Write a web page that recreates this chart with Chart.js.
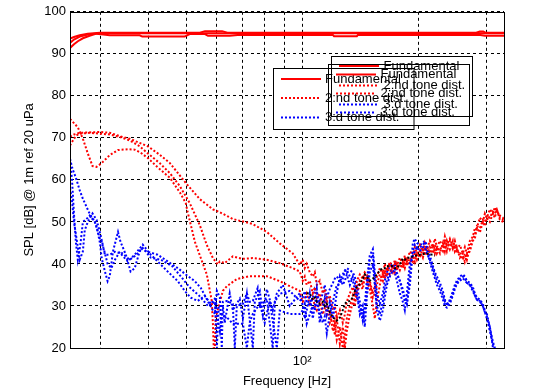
<!DOCTYPE html>
<html>
<head>
<meta charset="utf-8">
<script src="https://cdn.jsdelivr.net/npm/chart.js@4/dist/chart.umd.min.js"></script>
<style>body{margin:0;background:#fff}</style>
</head>
<body>
<canvas id="c" width="556" height="389"></canvas>
<script>
// frequency ticks (Hz) and labels
const xTicks = [30, 40, 50, 60, 70, 80, 90, 100, 200, 300];
const legendLabels = ['Fundamental', '2:nd tone dist.', '3:d tone dist.'];

// shared frequency grid for the upper (noisy) part of every curve
const fTail = [98.6,100.4,101.6,102.8, 104.7,106.6,107.9,109.2, 111.1,113.2,114.5,115.9, 118.0,120.2,121.6,123.0,
  125.3,127.5,129.1,130.6, 133.0,135.4,137.0,138.7, 141.2,143.7,145.4,147.2, 149.8,152.6,154.4,156.3,
  159.1,162.0,163.9,165.9, 168.9,171.9,174.0,176.1, 179.3,182.5,184.7,187.0, 190.3,193.8,196.1,198.5,
  202.1,205.7,208.2,210.7, 214.5,218.4,221.0,223.7, 227.8,231.9,234.6,237.5, 241.7,246.1,249.0,252.0,
  256.6,261.2,264.4,267.6, 272.4,277.3,280.6,284.0, 289.2,294.4,298.0,301.5, 306.9,312.5,316.2,320.0,
  325.9,331.7,333.8];

// fundamentals [Hz, dB]
const fund1 = [[25,93.6],[25.6,94.0],[26.5,94.4],[27.8,94.8],[29.9,95.0],[54.3,95.0],[56,95.4],[62,95.4],[64,95.0],
  [283,95.0],[289,95.3],[295,95.3],[300,95.0],[334,95.0]];
const fund2 = [[25,91.4],[25.6,92.3],[26.2,93.0],[27.0,93.7],[28.1,94.3],[29.3,94.8],[30.5,94.6],[31.7,94.4],[37.9,94.4],
  [38.5,94.1],[49.6,94.1],[51.1,94.7],[56,94.7],[57,94.3],[64.9,94.3],[68,94.5],[120.2,94.5],[121,94.2],[138.7,94.2],
  [139.5,94.5],[290,94.5],[298,94.3],[334,94.3]];
const fund3 = [[25,92.6],[25.6,93.4],[26.5,94.1],[27.8,94.6],[29.9,94.9],[334,94.9]];

// 2:nd tone distortion, low part [Hz, dB]
const h2aHead = [[25,74.5],[25.6,73.5],[26.2,72.5],[27.0,69.8],[27.8,66.3],[28.6,63.3],[29.3,63.1],[30.2,64.0],[31.7,65.9],
  [33.3,67.1],[35.3,67.3],[36.8,67.2],[38.1,66.5],[39.8,65.2],[42.2,63.0],[45.4,60.5],[48.2,57.0],[49.9,54.5],[50.5,52.3],
  [52.7,45.3],[56.6,37.5],[58.3,31.2],[58.7,25.8],[59.0,20.0],[59.4,20.0],[59.7,27.3],[61.2,31],[62.3,33.6],[63.8,34.7],
  [67.7,36.4],[73.1,37.1],[81.0,37.1],[87.5,35.9],[92.9,34.7]];
const h2bHead = [[25,70.3],[25.6,70.8],[26.5,71.2],[28.1,71.3],[29.9,71.4],[31.7,71.2],[33.7,70.4],[35.7,69.8],[37.9,68.8],
  [39.8,68.0],[42.7,66.0],[45.4,64.0],[49.9,59.3],[54.3,55.4],[58.7,53.0],[61.2,52.3],[66.1,50.7],[74.5,49.5],[81.0,47.6],
  [87.5,44.9],[94.6,42.5]];
const h2cHead = [[25,68.2],[25.3,69],[25.9,70.5],[26.5,71.0],[28.1,71.2],[29.9,71.0],[31.7,70.8],[33.7,70.2],[35.7,69.4],
  [37.9,68.0],[39.8,66.3],[42.7,64.0],[45.4,61.6],[48.2,58.5],[51.1,54.5],[54.3,49.2],[56.6,44.5],[58.7,41.4],[60.4,39.9],
  [61.2,40.6],[63,40.2],[66.1,41.8],[70,41.2],[74.5,41.4],[81.0,41.0],[87.5,40.2],[94.6,39.0]];

// 2:nd tone distortion, upper part (dB on fTail)
const h2aTail = [33.6,31,32,33, 30.5,32,30,29, 31,28,29.5,30, 26,28,23,27, 21,25,20,24, 28,31,30,33, 35,34,37,36,
  34,30,27,31, 35,38,36.5,39, 37.5,39.5,38,40, 38.5,40.5,39,41, 40,42,40.5,42.5, 41.5,43.5,42,44, 42.5,44.5,42.5,44,
  42.5,45,43,45.5, 43.5,45.5,43,44, 41.5,42.5,40.5,42, 43,45.5,46,48.5, 47.5,50,49,51, 50,52,51,53, 50.5,50,49.5];
const h2bTail = [39.8,41,39,40, 38,37,38,35, 36,33,34,31, 32.5,29,30,27, 29,26,28,31, 33,34.5,33,36, 37.5,36.5,38,37.5,
  36,33,35,37, 39,37.5,40,38.5, 40.5,39,41,39.5, 41.5,40,42,40.5, 43,42,44,42.5, 44.5,43,45,43.5, 45.5,44,46,44,
  45.5,44,46.5,44.5, 46,44,45.5,43.5, 44.5,42.5,44,42.5, 45.5,46.5,48.5,48.5, 51,50,52,51, 53,52,53.5,52.5, 51.5,51,50.5];
const h2cTail = [38.2,36,37,35, 36,33,34.5,32, 33,30,31,28, 29,24,26,22, 25,20,23,27, 30,32.5,31,34, 36,35,37.5,36.5,
  35.5,32,33,35, 37.5,36,38.5,37, 39.5,38,40,38.5, 40,39,41,39.5, 41.5,40.5,42.5,41, 43,41.5,43.5,42, 44,42.5,44.5,42.5,
  44,43,45,43, 45.5,43.5,44.5,42.5, 43,41,42.5,41, 44,46,47,49, 48.5,50.5,50,51.5, 51,52.5,52,53, 51,50.5,50];

// 3:d tone distortion, low part [Hz, dB]
const h3aHead = [[25,65],[25.3,60],[25.6,52],[25.9,45],[26.2,41],[26.6,44.6],[27.0,50],[27.8,51],[28.1,51.5],[29.0,50],
  [29.3,49],[29.9,45],[30.2,41.4],[30.8,38.2],[31.3,35.9],[31.7,37.1],[32.0,39.9],[32.3,42.9],[33.3,47.6],[33.8,45.3],
  [34.9,42.2],[35.9,38.2],[36.8,39],[38.1,43.7],[39.8,42.9],[42.2,42.2],[44.8,40.6],[47.6,39.0],[49.9,37.5],[52.7,35.9],
  [54.6,34.3],[56.9,31.2],[59.4,28.1],[60.1,33.6],[61.2,32],[61.9,20],[62.3,31],[63.8,31.2],[66.1,30.5],[66.9,20],[67.7,30],
  [70.2,30.5],[71.9,33],[73.1,31],[74.5,31.2],[76.7,34.3],[77.7,30],[81,31.7],[83.9,20],[85,31],[87.5,32.9],[92.9,33.6]];
const h3bHead = [[25,65],[25.4,62.5],[25.9,60.5],[26.5,57.5],[27.0,55.5],[28.1,52],[29.0,50],[29.9,46],[30.2,45.3],[30.8,42.2],
  [31.7,42.2],[32.7,42.9],[33.8,42.5],[35.3,40.6],[36.8,42.2],[38.6,44.6],[40.5,42.2],[42.2,40.6],[44.8,38.2],[47.6,35.9],
  [49.6,33.6],[51.4,32.0],[53.6,31.2],[55.9,32.4],[58.0,30.5],[59.7,32],[60.1,28.1],[61.2,24],[61.9,28],[63.8,27.3],
  [66.1,25.8],[70.2,25.8],[71.9,20],[73.1,26],[74.5,28.1],[77.7,30.5],[80,26],[82.4,31.2],[86,20],[87.5,28.9],[92.9,28.1]];
const h3cHead = [[25,58],[25.3,55],[25.6,50],[25.9,47],[26.2,44],[26.5,41],[27,43],[27.3,48],[27.8,50],[28.6,52],[29.3,50.5],
  [29.9,47.5],[30.5,44],[31.3,40],[32.0,39],[32.7,41],[33.7,43],[34.7,42],[35.7,41],[37,42],[38.6,43.8],[40.5,41.5],[43,41],
  [46,39.5],[48.5,37],[51,34.5],[54,32.5],[57,30],[59.4,31],[60.1,20],[60.8,30],[62.3,30],[63,26],[64.9,33],[66.1,29],
  [68.9,31.7],[70.2,27],[71.9,32.9],[74.5,20],[75.4,31],[77.7,33.5],[79.1,28],[81,34],[83.9,29],[86,33],[89.1,35],[92.9,30]];

// 3:d tone distortion, upper part (dB on fTail)
const h3aTail = [31.2,32,33.5,31, 30,32,34,33, 31,33,35,32, 34,35.5,36.5,37, 36,37.5,38.5,39, 38.5,38,37,35, 31,27,30,36,
  42,43.5,38,33, 30.5,33,36,38, 39.5,40,39,37.5, 36,34,32,30.5, 37,45,46,45, 44.5,45,45.5,44.5, 42,39.5,38,37,
  35.5,33.5,31.5,30, 31.5,33.5,35,36, 37,37.5,37,36, 35.5,34.5,33,32, 31.5,30.5,29,27.5, 25,21.5,20,18, 16,15,14];
const h3bTail = [28.1,29,30.5,25.8, 28,30,29,31, 28.5,26,27.5,23.5, 28,31,33,35, 35.2,36.5,38.2,38.6, 37,36,34,32,
  30,26.5,29,33.6, 41,42.2,36,30, 28.1,31,34.3,36, 38,39,39.9,38, 35.9,33,31,30.5, 35,43,44.6,44, 44,44.5,45.3,43.5,
  40.5,38,36.6,35, 33.6,31.5,30,29.6, 30.5,32.5,34,35.2, 36,36.6,36,35.5, 35,34,32.5,31.5, 31.2,30,28.5,28.1,
  25,20.2,19,17, 15,14,13];
const h3cTail = [33,30,27,29, 33,27,30,34, 26,30,32,28, 31,27,30,33, 37,35,36,37.5, 35,37,35.5,33, 28,30,25,32,
  38,40,35,29, 26.5,29,32,35, 37,38.5,38,36, 33,31,29,33, 40,42,43,44, 43,44,44,42.5, 41,39,37.5,36,
  34.5,32.5,31,30.5, 31,33,34.5,35.5, 36.5,37,36.5,35.5, 35,33.5,32.5,31.5, 31,30,28.5,27, 24,21,19.5,17.5, 15.5,14.5,13.5];

// black trace (dB on fTail, starts at 98.6 Hz)
const blackTail = [null,null,null,33, 33,31.5,32,31, 30.5,31,30,30.5, 28.5,27.2,27,26.5, 27.2,29,30.5,31, 31.2,32,33.5,34.5,
  35.2,36.5,37.5,37, 36,36.5,37,37.5, 38.5,39,39,39.5, 39.4,39.5,39,39, 40,41.3,41,41.5, 41.5,41.8,42,42,
  42.2,42.3,42.5,42.5, 42.3,42.2,42];

function series(head, tail) {
  const pts = head.map(p => ({x: p[0], y: p[1]}));
  tail.forEach((v, i) => { if (v !== null) pts.push({x: fTail[i], y: v}); });
  return pts;
}

const RED = '#ff0000', BLUE = '#0000ff';
const solid = (data) => ({data, borderColor: RED, borderWidth: 2});
const dotted = (data, color) => ({data, borderColor: color, borderWidth: 2, borderDash: [2, 2]});

const datasets = [
  solid(series(fund1, [])), dotted(series(h2aHead, h2aTail), RED), dotted(series(h3aHead, h3aTail), BLUE),
  solid(series(fund2, [])), dotted(series(h2bHead, h2bTail), RED), dotted(series(h3bHead, h3bTail), BLUE),
  solid(series(fund3, [])), dotted(series(h2cHead, h2cTail), RED), dotted(series(h3cHead, h3cTail), BLUE),
  dotted(series([], blackTail), '#000000')
];
// later curves on top, like in the original plot
datasets.forEach((d, i) => { d.order = datasets.length - i; d.clip = 0; d.pointRadius = 0; d.tension = 0; d.fill = false; });

const FONT = {family: '"Liberation Sans", Arial, sans-serif', size: 13};

// three overlapping legend boxes
const legendBoxes = [
  {x: 273.5, y: 68.5, w: 140.5, h: 61, lx: 281, lw: 40, tx: 325, rows: [79, 98, 117.5]},
  {x: 328.5, y: 64.5, w: 141, h: 61, lx: 336, lw: 40, tx: 380.5, rows: [74.5, 93.5, 112.5]},
  {x: 331.5, y: 56.5, w: 141, h: 60, lx: 339, lw: 40, tx: 383.5, rows: [66, 85.5, 104.5]}
];

const boxPlugin = {
  id: 'matlabBox',
  afterDraw(chart) {
    const ctx = chart.ctx, a = chart.chartArea;
    ctx.save();
    ctx.setLineDash([]);
    ctx.strokeStyle = '#000';
    ctx.lineWidth = 1;
    ctx.strokeRect(Math.round(a.left) + 0.5, Math.round(a.top) + 0.5,
      Math.round(a.right - a.left), Math.round(a.bottom - a.top));

    legendBoxes.forEach(b => { ctx.fillStyle = '#fff'; ctx.fillRect(b.x, b.y, b.w, b.h); });
    legendBoxes.forEach(b => { ctx.strokeStyle = '#000'; ctx.lineWidth = 1; ctx.strokeRect(b.x, b.y, b.w, b.h); });
    ctx.font = '13px "Liberation Sans", Arial, sans-serif';
    ctx.textBaseline = 'middle';
    legendBoxes.forEach(b => {
      b.rows.forEach((ry, i) => {
        ctx.beginPath();
        ctx.strokeStyle = i === 2 ? BLUE : RED;
        ctx.lineWidth = 2;
        ctx.setLineDash(i === 0 ? [] : [2, 2]);
        ctx.moveTo(b.lx, ry);
        ctx.lineTo(b.lx + b.lw, ry);
        ctx.stroke();
        ctx.setLineDash([]);
        ctx.fillStyle = '#000';
        ctx.fillText(legendLabels[i], b.tx, ry);
      });
    });
    ctx.restore();
  }
};

new Chart(document.getElementById('c'), {
  type: 'line',
  data: {datasets},
  options: {
    responsive: false,
    animation: false,
    layout: {padding: {top: 6, right: 52, left: 0, bottom: 0}},
    plugins: {legend: {display: false}, tooltip: {enabled: false}},
    scales: {
      x: {
        type: 'logarithmic',
        min: 25, max: 334,
        bounds: 'data',
        afterBuildTicks: s => { s.ticks = xTicks.map(v => ({value: v})); },
        afterFit: s => { s.height = 41; },
        grid: {color: '#000', lineWidth: 1, drawTicks: false},
        border: {display: true, color: '#000', width: 1, dash: [3, 3]},
        ticks: {autoSkip: false, maxRotation: 0, padding: 6, color: '#000', font: FONT,
          callback: v => (v === 100 ? '10²' : '')},
        title: {display: true, text: 'Frequency [Hz]', color: '#000', font: FONT, padding: {top: 0, bottom: 0}}
      },
      y: {
        min: 20, max: 100,
        afterFit: s => { s.width = 70; },
        grid: {color: '#000', lineWidth: 1, drawTicks: false},
        border: {display: true, color: '#000', width: 1, dash: [3, 3]},
        ticks: {stepSize: 10, padding: 4, color: '#000', font: FONT},
        title: {display: true, text: 'SPL [dB] @ 1m ref 20 uPa', color: '#000', font: FONT, padding: {top: 22, bottom: 0}}
      }
    }
  },
  plugins: [boxPlugin]
});
</script>
</body>
</html>
